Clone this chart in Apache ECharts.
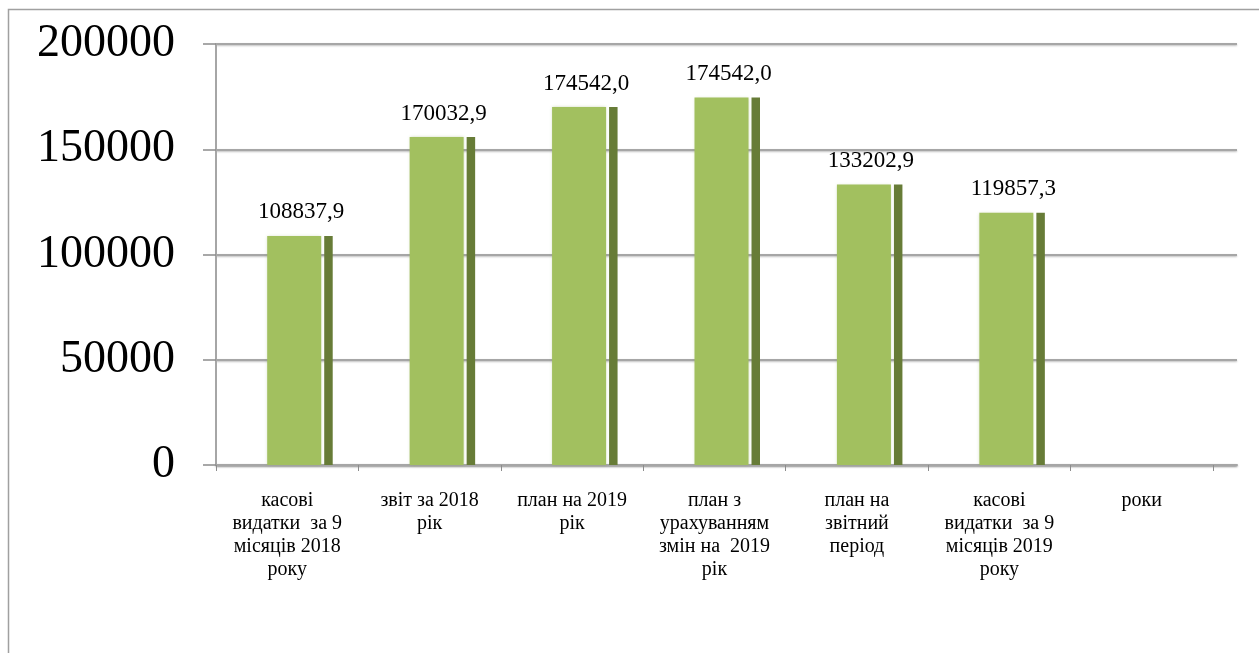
<!DOCTYPE html>
<html>
<head>
<meta charset="utf-8">
<style>
html,body{margin:0;padding:0;background:#fff;}
#chart{width:1259px;height:653px;}
</style>
<script src="https://cdn.jsdelivr.net/npm/echarts@6/dist/echarts.min.js"></script>
</head>
<body>
<div id="chart"></div>
<script>
// ---- data ----
const categories = [
  'касові\nвидатки  за 9\nмісяців 2018\nроку',
  'звіт за 2018\nрік',
  'план на 2019\nрік',
  'план з\nурахуванням\nзмін на  2019\nрік',
  'план на\nзвітний\nперіод',
  'касові\nвидатки  за 9\nмісяців 2019\nроку',
  'роки'
];
// bar heights as drawn in the picture
const barValues = [108837.9, 155800, 170032.9, 174542.0, 133202.9, 119857.3, null];
// value labels as printed above the bars
const valueLabels = ['108837,9', '170032,9', '174542,0', '174542,0', '133202,9', '119857,3', ''];
const yTicks = { min: 0, max: 200000, interval: 50000 };

// ---- chart ----
const chart = echarts.init(document.getElementById('chart'));
const serif = '"Liberation Serif", "Times New Roman", serif';
const gridGray = '#a6a6a6';

const barData = [];
barValues.forEach((v, i) => { if (v != null) barData.push([i, v]); });

const option = {
  animation: false,
  backgroundColor: '#fff',
  graphic: [{
    type: 'rect',
    shape: { x: 8.5, y: 9.5, width: 1400, height: 800 },
    style: { fill: 'none', stroke: '#a0a0a0', lineWidth: 1.5 },
    silent: true
  }],
  grid: [
    { left: 216, right: 22, top: 44, bottom: 188 },
    { left: 216, right: 46, top: 44, bottom: 188 }
  ],
  xAxis: [
    {
      gridIndex: 0, type: 'value', min: 0, max: 1,
      axisLine: { show: true, onZero: false, lineStyle: { color: gridGray, width: 2, shadowBlur: 2, shadowColor: 'rgba(0,0,0,0.25)', shadowOffsetY: 1 } },
      axisTick: { show: false }, axisLabel: { show: false }, splitLine: { show: false }
    },
    {
      gridIndex: 1, type: 'category', data: categories, boundaryGap: true,
      axisLine: { show: false },
      axisTick: { show: true, length: 6, lineStyle: { color: '#8c8c8c', width: 1 }, interval: 0 },
      axisLabel: { interval: 0, margin: 24, fontFamily: serif, fontSize: 20, lineHeight: 23, color: '#000', align: 'center' },
      splitLine: { show: false }
    }
  ],
  yAxis: [
    {
      gridIndex: 0, type: 'value', min: yTicks.min, max: yTicks.max, interval: yTicks.interval,
      axisLine: { show: true, lineStyle: { color: gridGray, width: 2 } },
      axisTick: { show: true, inside: false, length: 13, lineStyle: { color: '#8c8c8c', width: 1.5 } },
      axisLabel: { margin: 41, fontFamily: serif, fontSize: 46, color: '#000', formatter: v => String(v) },
      splitLine: { show: true, lineStyle: { color: gridGray, width: 2, shadowBlur: 2, shadowColor: 'rgba(0,0,0,0.25)', shadowOffsetY: 1 } }
    },
    {
      gridIndex: 1, type: 'value', min: yTicks.min, max: yTicks.max, interval: yTicks.interval,
      show: false, splitLine: { show: false }
    }
  ],
  series: [{
    type: 'custom',
    xAxisIndex: 1, yAxisIndex: 1,
    data: barData,
    encode: { x: 0, y: 1 },
    z: 5,
    renderItem: function (params, api) {
      const idx = api.value(0);
      const v = api.value(1);
      const top = api.coord([idx, v]);
      const base = api.coord([idx, 0]);
      const cx = top[0];
      const h = base[1] - top[1];
      return {
        type: 'group',
        children: [
          { type: 'rect', shape: { x: cx - 20, y: top[1], width: 54, height: h },
            style: { fill: '#a2c05f', shadowBlur: 3, shadowColor: 'rgba(120,150,60,0.35)' } },
          { type: 'rect', shape: { x: cx + 37, y: top[1], width: 8.5, height: h },
            style: { fill: '#677c37' } },
          { type: 'text',
            style: { text: valueLabels[params.dataIndex], x: cx + 14, y: top[1] - 12,
                     align: 'center', verticalAlign: 'bottom',
                     font: '23px ' + serif, fill: '#000' } }
        ]
      };
    }
  }]
};
chart.setOption(option);
</script>
</body>
</html>
